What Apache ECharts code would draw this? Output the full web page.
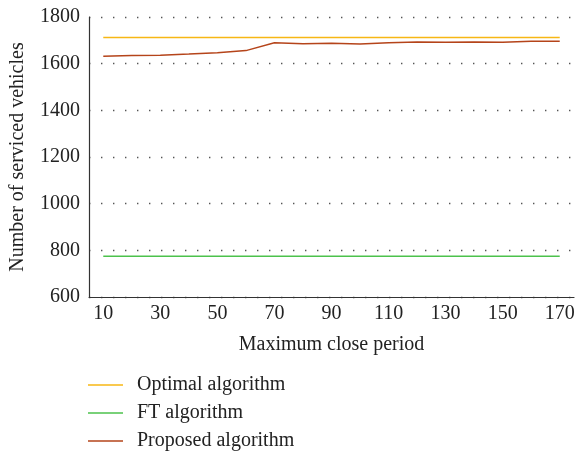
<!DOCTYPE html>
<html>
<head>
<meta charset="utf-8">
<script src="https://cdn.jsdelivr.net/npm/echarts@6/dist/echarts.min.js"></script>
<style>
    html, body { margin: 0; padding: 0; background: #fff; }
    #chart { width: 577px; height: 453px; }
</style>
</head>
<body>
<div id="chart"></div>
<script>
var periods = ['10', '20', '30', '40', '50', '60', '70', '80', '90', '100', '110', '120', '130', '140', '150', '160', '170'];
var optimalData = [1712, 1712, 1712, 1712, 1712, 1712, 1712, 1712, 1712, 1712, 1712, 1712, 1712, 1712, 1712, 1712, 1712];
var ftData = [775, 775, 775, 775, 775, 775, 775, 775, 775, 775, 775, 775, 775, 775, 775, 775, 775];
var proposedData = [1632, 1635, 1636, 1641, 1647, 1656, 1690, 1685, 1687, 1684, 1690, 1693, 1692, 1693, 1692, 1696, 1696];
var seriesNames = ['Optimal algorithm', 'FT algorithm', 'Proposed algorithm'];
var colors = ['#f7b715', '#4cc24c', '#b5441a'];

var fontFamily = '"Liberation Serif", "DejaVu Serif", serif';

var makeLine = function (name, data, color) {
    return {
        name: name,
        type: 'line',
        data: data,
        symbol: 'none',
        lineStyle: { color: color, width: 1.5 },
        itemStyle: { color: color }
    };
};

var chart = echarts.init(document.getElementById('chart'));
var option = {
    animation: false,
    textStyle: { fontFamily: fontFamily },
    grid: {
        left: 89,
        right: 3,
        top: 17,
        bottom: 156,
        containLabel: false,
        outerBoundsMode: 'none'
    },
    legend: {
        orient: 'vertical',
        left: 88,
        top: 375,
        padding: 0,
        icon: 'rect',
        itemWidth: 35,
        itemHeight: 1.5,
        itemGap: 8,
        textStyle: { fontFamily: fontFamily, fontSize: 20, color: '#222', padding: [0, 0, 0, 9] },
        data: seriesNames
    },
    xAxis: {
        type: 'category',
        data: periods,
        boundaryGap: true,
        name: 'Maximum close period',
        nameLocation: 'middle',
        nameGap: 38,
        nameTextStyle: { fontFamily: fontFamily, fontSize: 20, color: '#222' },
        axisLine: { lineStyle: { color: '#333', width: 1.2 } },
        axisTick: { show: false },
        axisLabel: {
            interval: 1,
            margin: 7,
            fontFamily: fontFamily,
            fontSize: 20,
            color: '#222'
        },
        splitLine: { show: false }
    },
    yAxis: {
        type: 'value',
        min: 600,
        max: 1800,
        interval: 200,
        name: 'Number of serviced vehicles',
        nameLocation: 'middle',
        nameGap: 61,
        nameTextStyle: { fontFamily: fontFamily, fontSize: 20, color: '#222' },
        axisLine: { show: true, lineStyle: { color: '#333', width: 1.2 } },
        axisTick: { show: false },
        axisLabel: {
            margin: 9,
            fontFamily: fontFamily,
            fontSize: 20,
            color: '#222',
            formatter: function (v) { return String(v); }
        },
        splitLine: {
            show: true,
            lineStyle: { color: '#555', width: 1.4, type: [1.4, 10.6] }
        }
    },
    series: [
        makeLine(seriesNames[0], optimalData, colors[0]),
        makeLine(seriesNames[1], ftData, colors[1]),
        makeLine(seriesNames[2], proposedData, colors[2])
    ]
};
chart.setOption(option);
</script>
</body>
</html>
